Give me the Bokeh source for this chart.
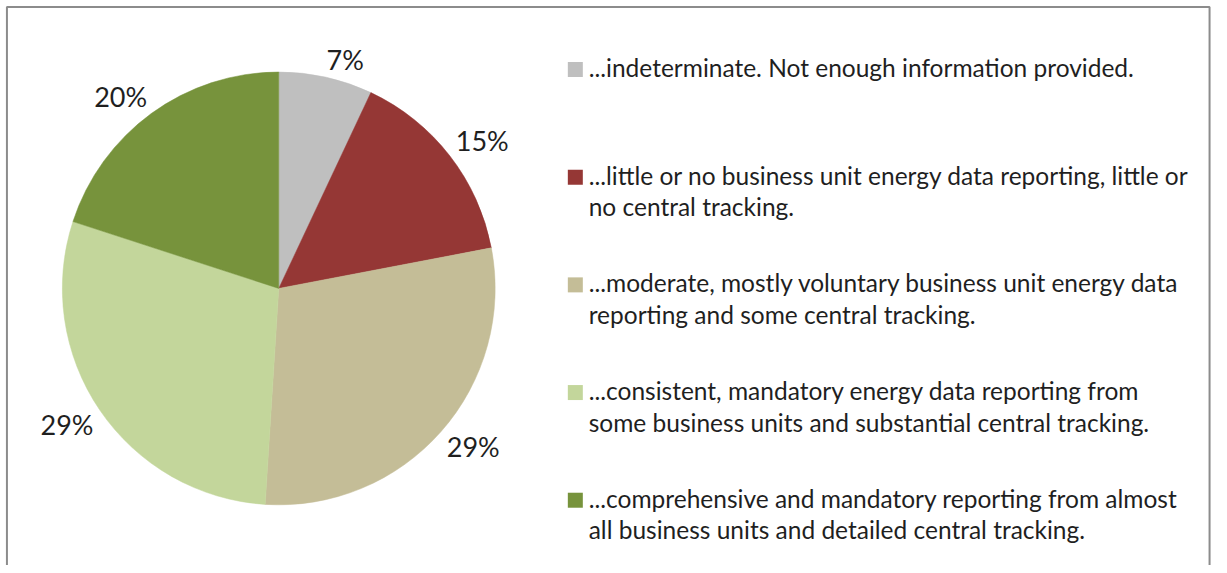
import math
from bokeh.plotting import figure
from bokeh.models import Range1d, ColumnDataSource
from bokeh.core.properties import value
from bokeh.embed import file_html
from bokeh.resources import INLINE

# ---- data ----
categories = [
    "...indeterminate. Not enough information provided.",
    "...little or no business unit energy data reporting, little or\nno central tracking.",
    "...moderate, mostly voluntary business unit energy data\nreporting and some central tracking.",
    "...consistent, mandatory energy data reporting from\nsome business units and substantial central tracking.",
    "...comprehensive and mandatory reporting from almost\nall business units and detailed central tracking.",
]
values = [7, 15, 29, 29, 20]
colors = ["#BFBFBF", "#953735", "#C4BD97", "#C3D69B", "#77933C"]

# ---- layout (figure pixels) ----
W, H = 1215, 565
REF_W, REF_H = 1227, 573
SX, SY = W / REF_W, H / REF_H
S = (SX + SY) / 2
FONT = "Lato"
TEXT_COLOR = "#1f1f1f"

def X(px):
    return px * SX

def Y(py):
    return H - py * SY

cx, cy, R = X(281), Y(292), 219 * S

p = figure(width=W, height=H, output_backend="svg", toolbar_location=None,
           x_range=Range1d(0, W), y_range=Range1d(0, H),
           min_border=0, outline_line_color=None)
p.axis.visible = False
p.grid.visible = False
p.background_fill_color = "white"
p.border_fill_color = "white"

# ---- pie ----
total = float(sum(values))
starts, ends, mids = [], [], []
cum = 0.0
for v in values:
    a0 = math.pi / 2 - 2 * math.pi * cum / total
    cum += v
    a1 = math.pi / 2 - 2 * math.pi * cum / total
    starts.append(a0)
    ends.append(a1)
    mids.append((a0 + a1) / 2)

src = ColumnDataSource(dict(x=[cx] * len(values), y=[cy] * len(values),
                            start=starts, end=ends, color=colors))
p.wedge(x="x", y="y", radius=R, start_angle="start", end_angle="end",
        direction="clock", fill_color="color", line_color="color",
        line_width=0.5, source=src)

# ---- data labels (outside end: nearest box corner sits on the mid-angle ray) ----
lab_fs = 27
lh = 20
gap = 8 * S
lx, ly, lt = [], [], []
for v, m in zip(values, mids):
    t = f"{v}%"
    lw = 17.5 * len(t)
    c, s = math.cos(m), math.sin(m)
    px_ = cx + (R + gap) * c + math.copysign(lw / 2, c)
    py_ = cy + (R + gap) * s + math.copysign(lh / 2, s)
    lx.append(px_)
    ly.append(py_)
    lt.append(t)
p.text(x=lx, y=ly, text=lt, text_align="center", text_baseline="middle",
       text_font=value(FONT), text_font_size=f"{lab_fs}px", text_color=TEXT_COLOR)

# ---- legend ----
leg_fs = 24.5
m_top = 70
m_step = 109.2
line_gap = 32
msize = 15
mx, my = [], []
tx, ty, tt = [], [], []
for i, (cat, col) in enumerate(zip(categories, colors)):
    yc = m_top + m_step * i
    mx.append(X(580.5))
    my.append(Y(yc))
    for j, line in enumerate(cat.split("\n")):
        tx.append(X(594))
        ty.append(Y(yc - 2 + line_gap * j))
        tt.append(line)
p.rect(x=mx, y=my, width=msize, height=msize, fill_color=colors, line_color=None)
p.text(x=tx, y=ty, text=tt, text_align="left", text_baseline="middle",
       text_font=value(FONT), text_font_size=f"{leg_fs}px", text_color=TEXT_COLOR)

# ---- frame (open at the bottom, like the cropped original) ----
p.line(x=[X(6.5), X(6.5), X(1221), X(1221)], y=[0, Y(6.5), Y(6.5), 0],
       line_color="#8c8c8c", line_width=2)

open("out.html", "w").write(file_html(p, INLINE))
